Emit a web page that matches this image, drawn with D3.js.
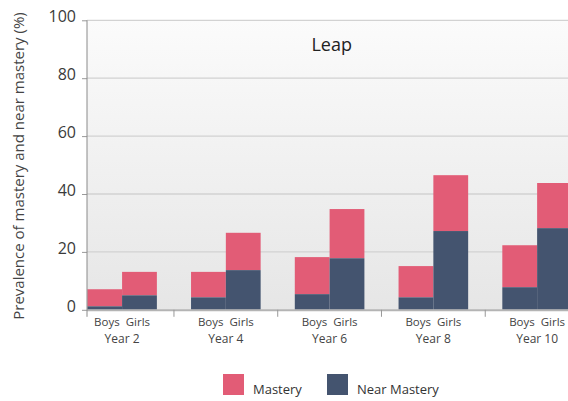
<!DOCTYPE html>
<html>
<head>
<meta charset="utf-8">
<script src="https://cdn.jsdelivr.net/npm/d3@7"></script>
<style>
  html, body { margin: 0; padding: 0; background: #fff; }
  svg { display: block; font-family: "Open Sans", sans-serif; }
</style>
</head>
<body>
<svg id="chart" width="568" height="401"></svg>
<script>
// ---- data ----
const years = ["Year 2", "Year 4", "Year 6", "Year 8", "Year 10"];
const sexes = ["Boys", "Girls"];
const nearMasteryBoys  = [1.2, 4.3, 5.4, 4.3, 7.8];
const nearMasteryGirls = [5.0, 13.7, 17.8, 27.2, 28.2];
const masteryBoys      = [5.9, 8.8, 12.8, 10.8, 14.5];
const masteryGirls     = [8.1, 12.9, 17.0, 19.3, 15.6];
const yTicks = [0, 20, 40, 60, 80, 100];
const seriesNames = ["Mastery", "Near Mastery"];
const colors = { "Mastery": "#e25c76", "Near Mastery": "#44546f" };
const chartTitle = "Leap";
const yTitle = "Prevalence of mastery and near mastery (%)";

// ---- build rows ----
const rows = [];
years.forEach((yr, i) => {
  rows.push({ year: yr, sex: "Boys", near: nearMasteryBoys[i], mastery: masteryBoys[i] });
  rows.push({ year: yr, sex: "Girls", near: nearMasteryGirls[i], mastery: masteryGirls[i] });
});

const svg = d3.select("#chart");
const plotLeft = 87, plotRight = 568, plotTop = 20.3, plotBottom = 309.8;

const y = d3.scaleLinear().domain([0, 100]).range([plotBottom, plotTop]);
const x0 = d3.scaleBand().domain(years).range([70.2, 589]).paddingInner(0).paddingOuter(0);
const bw = 34.8;
const x1 = d3.scaleBand().domain(sexes)
  .range([x0.bandwidth() / 2 - bw, x0.bandwidth() / 2 + bw]).padding(0);

// background gradient
const defs = svg.append("defs");
const grad = defs.append("linearGradient").attr("id", "bg").attr("x1", 0).attr("y1", 0).attr("x2", 0).attr("y2", 1);
grad.append("stop").attr("offset", "0%").attr("stop-color", "#fbfbfb");
grad.append("stop").attr("offset", "100%").attr("stop-color", "#e6e6e6");
defs.append("clipPath").attr("id", "clip").append("rect")
  .attr("x", plotLeft).attr("y", 0).attr("width", plotRight - plotLeft).attr("height", plotBottom + 1);

svg.append("rect").attr("x", plotLeft).attr("y", plotTop)
  .attr("width", plotRight - plotLeft).attr("height", plotBottom - plotTop)
  .attr("fill", "url(#bg)");

// gridlines
svg.append("g").selectAll("line").data(yTicks.filter(t => t > 0)).join("line")
  .attr("x1", plotLeft).attr("x2", plotRight)
  .attr("y1", d => y(d)).attr("y2", d => y(d))
  .attr("stroke", "#d2d2d2").attr("stroke-width", 1.3);

// bars
const bars = svg.append("g").attr("clip-path", "url(#clip)");
const g = bars.selectAll("g").data(rows).join("g")
  .attr("transform", d => `translate(${x0(d.year) + x1(d.sex)},0)`);
g.append("rect")
  .attr("x", 0).attr("width", x1.bandwidth())
  .attr("y", d => y(d.near + d.mastery))
  .attr("height", d => y(d.near) - y(d.near + d.mastery))
  .attr("fill", colors["Mastery"]);
g.append("rect")
  .attr("x", 0).attr("width", x1.bandwidth())
  .attr("y", d => y(d.near))
  .attr("height", d => y(0) - y(d.near))
  .attr("fill", colors["Near Mastery"]);

// x baseline
svg.append("line").attr("x1", plotLeft).attr("x2", plotRight)
  .attr("y1", y(0) + 0.5).attr("y2", y(0) + 0.5)
  .attr("stroke", "#b4b4b4").attr("stroke-width", 2);

// separators between categories
svg.append("g").selectAll("line").data(years.slice(1)).join("line")
  .attr("x1", d => x0(d)).attr("x2", d => x0(d))
  .attr("y1", y(0)).attr("y2", y(0) + 7)
  .attr("stroke", "#999").attr("stroke-width", 1);

// y axis
const yAxis = d3.axisLeft(y).tickValues(yTicks).tickSize(5).tickPadding(6);
const ya = svg.append("g").attr("transform", `translate(${plotLeft},0)`).call(yAxis);
ya.select(".domain").remove();
ya.selectAll(".tick line").attr("stroke", "#999");
ya.selectAll(".tick text").attr("font-size", 16).attr("fill", "#3a3a3a")
  .attr("font-family", "Open Sans, sans-serif").attr("dy", "0.1em");
svg.append("line").attr("x1", plotLeft).attr("x2", plotLeft)
  .attr("y1", plotTop).attr("y2", y(0) + 7)
  .attr("stroke", "#8a8a8a").attr("stroke-width", 1);

// x labels
const xl = svg.append("g");
xl.selectAll("text.sex").data(years).join("text").attr("class", "sex")
  .attr("x", d => x0(d) + x0.bandwidth() / 2)
  .attr("y", 326.3).attr("text-anchor", "middle")
  .attr("xml:space", "preserve").style("white-space", "pre")
  .attr("font-size", 11.5).attr("fill", "#444").text(sexes.join("  "));
xl.selectAll("text.yr").data(years).join("text").attr("class", "yr")
  .attr("x", d => x0(d) + x0.bandwidth() / 2)
  .attr("y", 342.6).attr("text-anchor", "middle")
  .attr("font-size", 12).attr("fill", "#444").text(d => d);

// title
svg.append("text").attr("x", 331.7).attr("y", 51).attr("text-anchor", "middle")
  .attr("font-size", 18).attr("fill", "#222").text(chartTitle);

// y title
svg.append("text").attr("transform", `translate(23.5,166) rotate(-90)`)
  .attr("text-anchor", "middle").attr("font-size", 15).attr("fill", "#444").text(yTitle);

// legend
const legendX = [223, 327];
const lg = svg.append("g").selectAll("g").data(seriesNames).join("g")
  .attr("transform", (d, i) => `translate(${legendX[i]},374)`);
lg.append("rect").attr("width", 21).attr("height", 21).attr("fill", d => colors[d]);
lg.append("text").attr("x", 30).attr("y", 20).attr("font-size", 13).attr("fill", "#333").text(d => d);
</script>
</body>
</html>
